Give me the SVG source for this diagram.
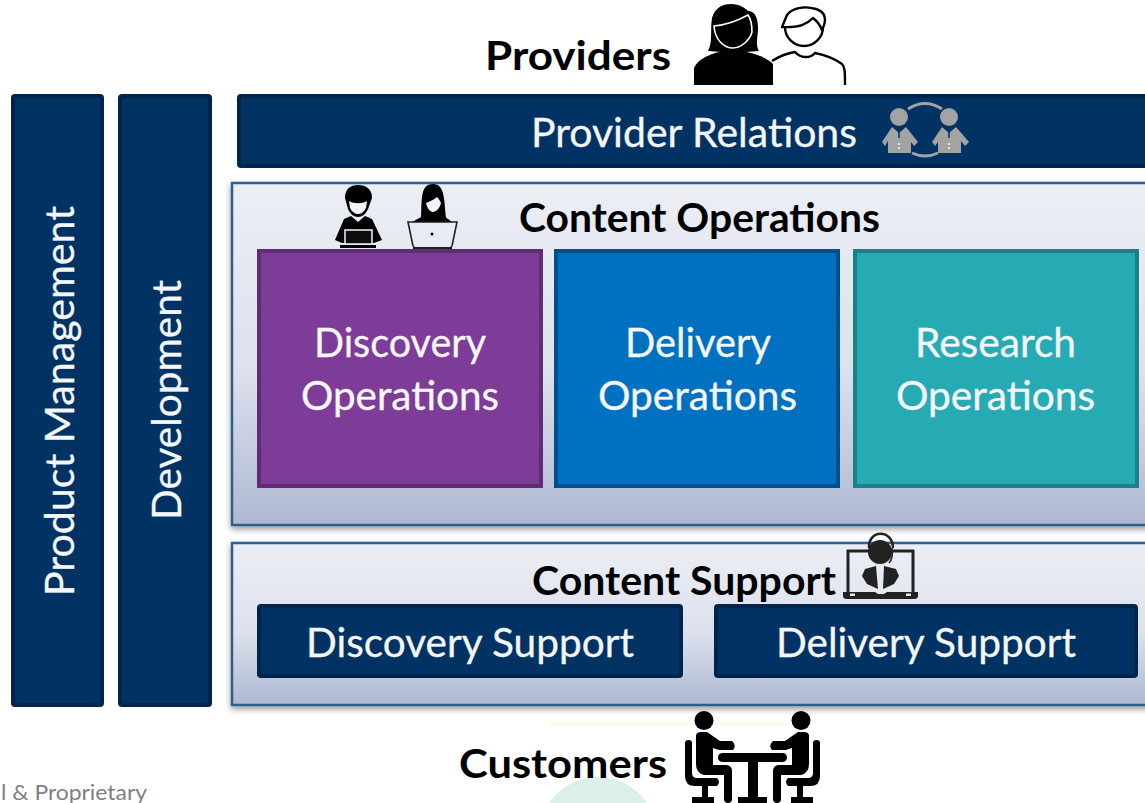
<svg xmlns="http://www.w3.org/2000/svg" width="1145" height="803" viewBox="0 0 1145 803">
<defs>
<linearGradient id="panel" x1="0" y1="0" x2="0" y2="1"><stop offset="0" stop-color="#ebeef5"/><stop offset="0.55" stop-color="#dde1ec"/><stop offset="1" stop-color="#aeb8d2"/></linearGradient>
<filter id="sh" x="-5%" y="-5%" width="110%" height="115%"><feDropShadow dx="0" dy="3" stdDeviation="3" flood-color="#000" flood-opacity="0.4"/></filter>
<filter id="soft" x="-5%" y="-5%" width="110%" height="110%"><feGaussianBlur stdDeviation="0.5"/></filter>
</defs>
<style>
text{font-family:"Lato","Open Sans","Liberation Sans",sans-serif}
.w{fill:#f4f6fa;font-size:40px;stroke:#f4f6fa;stroke-width:0.3}
.b{fill:#000;font-weight:700;font-size:41px}
.navy{fill:#003263;stroke:#00254d;stroke-width:4}
.panel{fill:url(#panel);stroke:#2f5f8f;stroke-width:2.5;filter:url(#sh)}
.k{fill:#000}
.g{fill:#a3a3a3}
.d{fill:#222}
</style>
<rect width="1145" height="803" fill="#fff"/>
<g id="backdrop"><rect x="547" y="721" width="243" height="5" fill="#fffbee"/><circle cx="598" cy="836" r="59" fill="#dcf0ea"/></g>
<g id="connectors"/>
<g id="product-management"><rect class="navy" x="13" y="96" width="89" height="609" rx="2"/><text class="w" transform="translate(74 596) rotate(-90)" textLength="390" lengthAdjust="spacingAndGlyphs">Product Management</text></g>
<g id="development"><rect class="navy" x="120" y="96" width="90" height="609" rx="2"/><text class="w" transform="translate(181 520) rotate(-90)" textLength="240" lengthAdjust="spacingAndGlyphs">Development</text></g>
<g id="provider-relations"><rect class="navy" x="239" y="96" width="920" height="70" rx="2"/><text class="w" x="531" y="147" textLength="326" lengthAdjust="spacingAndGlyphs">Provider Relations</text>
<g class="g" filter="url(#soft)">
<circle cx="899" cy="117" r="9"/><circle cx="949" cy="117" r="9"/>
<path d="M892 127 L899 133 L906 127 L918 142 L914 146 L911 142 V153 H888 V141 L885 146 L882 142Z"/>
<path d="M942 127 L949 133 L956 127 L969 142 L965 146 L961 141 V153 H938 V142 L935 146 L932 142Z"/>
<path d="M908 109 Q925 98 942 109" fill="none" stroke="#a3a3a3" stroke-width="3"/>
<path d="M912 153 Q925 159 938 153" fill="none" stroke="#a3a3a3" stroke-width="3"/>
<path d="M899 131 V138 M949 131 V138" stroke="#003263" stroke-width="1.5"/>
<path d="M899 143 V151 M949 143 V151" stroke="#fff" stroke-width="1.5" stroke-dasharray="2 2"/>
</g></g>
<g id="providers"><text class="b" x="485" y="70" textLength="186" lengthAdjust="spacingAndGlyphs">Providers</text>
<path d="M708 51 C713 42 710 30 712 18 C715 8 722 4 731 4 C740 4 745 8 748 11 C755 11 758 18 758 28 C758 38 755 44 759 51 L745 52 H722Z" class="k"/>
<path d="M714 26 C726 25 737 21 748 15 C751 19 752 26 752 32 C750 40 741 48 733 48 C724 48 715 40 714 26Z" fill="#000" stroke="#fff" stroke-width="1.6"/>
<path d="M694 85 V68 C698 58 715 51 733 50 C750 51 766 57 773 64 V85Z" class="k"/>
<circle cx="804" cy="27" r="19" fill="#fff" stroke="#000" stroke-width="2.4"/>
<path d="M782 27 L787 15 C793 7 806 6 816 9 C826 12 827 20 822 30 C820 25 817 21 813 18 C807 24 800 28 782 27Z" fill="#fff" stroke="#000" stroke-width="2.4" stroke-linejoin="round"/>
<path d="M772 61 C780 56 788 53 795 52 C800 58 810 59 815 53 C825 55 835 59 842 64 C845 67 845 72 845 85" fill="none" stroke="#000" stroke-width="2.4"/></g>
<g id="content-operations"><rect class="panel" x="232" y="183" width="930" height="342"/>
<text class="b" x="519" y="232" textLength="361" lengthAdjust="spacingAndGlyphs">Content Operations</text>
<g id="ops-staff" filter="url(#soft)">
<path d="M345 198 C345 189 350 185 358 185 C366 185 372 189 372 198 L368 209 C366 214 362 217 358 217 C354 217 350 214 348 209Z" class="k"/>
<path d="M349 201 C354 204 362 204 367 201 L366 208 C364 212 361 214 358 214 C355 214 352 212 350 208Z" fill="#f3f4f8"/>
<path d="M351 216 L358 222 L365 216 L372 219 L382 240 L374 243 H342 L335 240 L344 219Z" class="k"/>
<rect x="345" y="230" width="27" height="14" fill="#111" stroke="#e4e7f0" stroke-width="1.6"/>
<rect x="340" y="245" width="36" height="3" class="k"/>
<path d="M421 218 C422 200 420 184 433 184 C445 184 444 200 446 218 Z" class="k"/>
<path d="M426 203 C431 201 435 199 437 197 C439 199 440 201 441 203 C440 208 436 212 433 212 C430 212 427 208 426 203Z" fill="#f3f4f8"/>
<path d="M423 216 L429 213 L433 218 L438 213 L444 216 L452 222 H412Z" class="k"/>
<path d="M408 222 H457 L452 246 Q451 248 448 248 H417 Q414 248 413 246Z" fill="#e8ebf3" stroke="#222" stroke-width="1.6"/>
<circle cx="432" cy="234" r="1.5" class="k"/>
<rect x="413" y="247" width="39" height="2" class="d"/>
</g></g>
<g id="discovery-operations"><rect x="259" y="251" width="282" height="235" fill="#7d3c98" stroke="#5f2c75" stroke-width="4"/><text class="w" x="314" y="357" textLength="172" lengthAdjust="spacingAndGlyphs">Discovery</text><text class="w" x="301" y="410" textLength="198" lengthAdjust="spacingAndGlyphs">Operations</text></g>
<g id="delivery-operations"><rect x="556" y="251" width="282" height="235" fill="#0070c0" stroke="#004f8c" stroke-width="4"/><text class="w" x="625" y="357" textLength="146" lengthAdjust="spacingAndGlyphs">Delivery</text><text class="w" x="598" y="410" textLength="199" lengthAdjust="spacingAndGlyphs">Operations</text></g>
<g id="research-operations"><rect x="855" y="251" width="282" height="235" fill="#26abb4" stroke="#1a8189" stroke-width="4"/><text class="w" x="915" y="357" textLength="161" lengthAdjust="spacingAndGlyphs">Research</text><text class="w" x="896" y="410" textLength="199" lengthAdjust="spacingAndGlyphs">Operations</text></g>
<g id="content-support"><rect class="panel" x="232" y="543" width="930" height="162"/>
<text class="b" x="532" y="595" textLength="304" lengthAdjust="spacingAndGlyphs">Content Support</text>
<g id="support-agent" filter="url(#soft)">
<path d="M848 594 V551 H870 M891 551 H913 V594" fill="none" stroke="#222" stroke-width="3"/>
<path d="M843 592 H875 L878 594 H884 L887 592 H918 V596 Q918 599 914 599 H847 Q843 599 843 596Z" class="d"/>
<rect x="850" y="593.500" width="5" height="2.500" fill="#e8e8e8"/><rect x="906" y="593.500" width="5" height="2.500" fill="#e8e8e8"/>
<circle cx="880" cy="552" r="12" class="d"/>
<path d="M869 548 C868 529 893 529 893 548" fill="none" stroke="#222" stroke-width="2.500"/>
<path d="M892 548 C893 556 892 560 889 563" fill="none" stroke="#222" stroke-width="1.600"/>
<path d="M876 566 L865 569 L862 576 L867 584 L878 589 Z M884 566 L896 569 L899 576 L894 584 L883 589Z" class="d"/>
</g></g>
<g id="discovery-support"><rect class="navy" x="259" y="606" width="422" height="70" rx="2"/><text class="w" x="306" y="657" textLength="328" lengthAdjust="spacingAndGlyphs">Discovery Support</text></g>
<g id="delivery-support"><rect class="navy" x="716" y="606" width="420" height="70" rx="2"/><text class="w" x="776" y="657" textLength="300" lengthAdjust="spacingAndGlyphs">Delivery Support</text></g>
<g id="customers"><text class="b" x="459" y="778" textLength="208" lengthAdjust="spacingAndGlyphs">Customers</text>
<g fill="#000" stroke="none">
<circle cx="704" cy="720.500" r="9.500"/><circle cx="801" cy="720.500" r="9.500"/>
<path d="M696 735 Q697 732 701 732 H707 L720 741 H732 Q737 745 733 750 H719 L713 748 V765 H727 Q732 766 732 771 V799 Q732 803 728 803 Q724 803 724 799 V775 H704 Q696 773 696 764Z"/>
<path d="M809 735 Q808 732 804 732 H798 L785 741 H773 Q768 745 772 750 H786 L792 748 V765 H778 Q773 766 773 771 V799 Q773 803 777 803 Q781 803 781 799 V775 H801 Q809 773 809 764Z"/>
<path d="M685 743 Q685 740 688.500 740 Q692 740 692 743 V773 Q692 778 697 778 H717 Q721 782 717 786 H695 Q685 786 685 776Z"/>
<path d="M820 743 Q820 740 816.500 740 Q813 740 813 743 V773 Q813 778 808 778 H788 Q784 782 788 786 H810 Q820 786 820 776Z"/>
<rect x="718" y="753" width="69" height="9" rx="4.500"/><rect x="748" y="760" width="10" height="37"/><rect x="738" y="797" width="29" height="6"/>
<rect x="702" y="785" width="6" height="12"/><rect x="692" y="797" width="22" height="6"/>
<rect x="797" y="785" width="6" height="12"/><rect x="791" y="797" width="22" height="6"/>
</g></g>
<g id="footer"><text x="1" y="800" fill="#7f7f7f" font-size="21" textLength="146" lengthAdjust="spacingAndGlyphs">l &amp; Proprietary</text></g>
</svg>
